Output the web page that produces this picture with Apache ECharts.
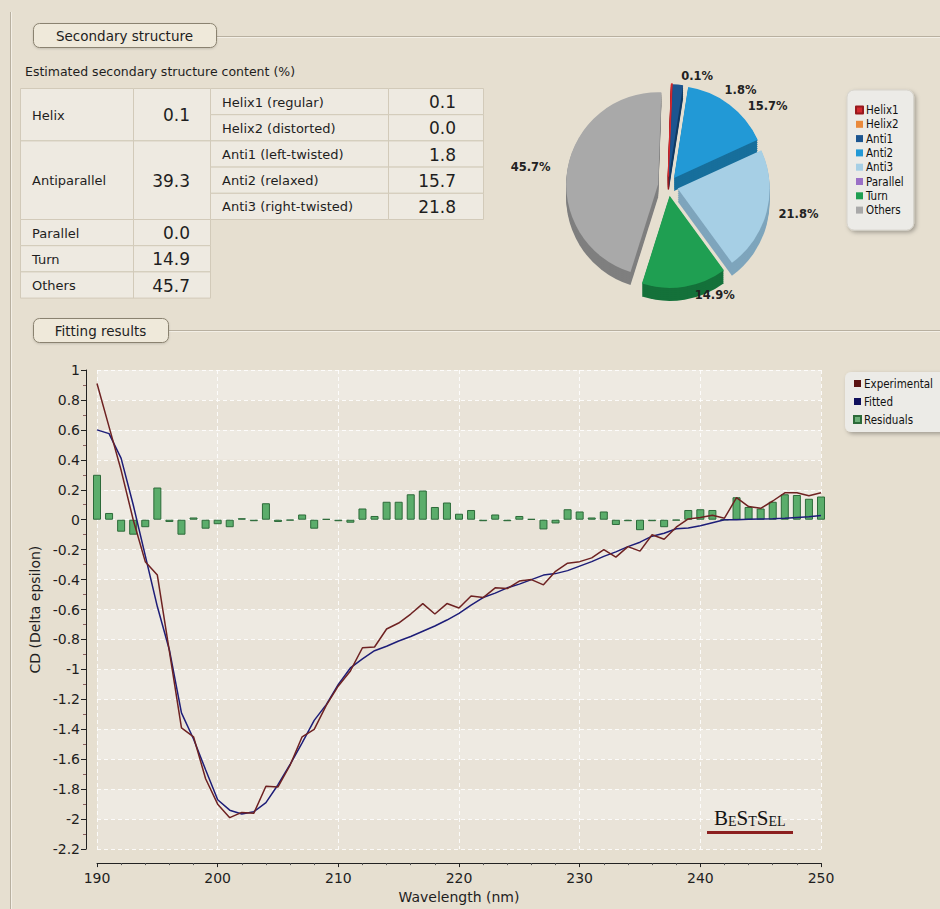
<!DOCTYPE html>
<html>
<head>
<meta charset="utf-8">
<script src="https://cdn.jsdelivr.net/npm/echarts@6/dist/echarts.min.js"></script>
<style>
  html, body { margin: 0; padding: 0; background: #e6dfd0; }
  #main { width: 940px; height: 909px; }
</style>
</head>
<body>
<div id="main"></div>
<script>
// ---- Secondary structure content (%) ----
const groupNames = ['Helix', 'Antiparallel', 'Parallel', 'Turn', 'Others'];
const groupValues = [0.1, 39.3, 0.0, 14.9, 45.7];
const subNames = ['Helix1 (regular)', 'Helix2 (distorted)', 'Anti1 (left-twisted)', 'Anti2 (relaxed)', 'Anti3 (right-twisted)'];
const subValues = [0.1, 0.0, 1.8, 15.7, 21.8];
const subGroup = [0, 0, 1, 1, 1];

const pieNames = ['Helix1', 'Helix2', 'Anti1', 'Anti2', 'Anti3', 'Parallel', 'Turn', 'Others'];
const pieValues = [0.1, 0.0, 1.8, 15.7, 21.8, 0.0, 14.9, 45.7];

// ---- CD spectrum fitting ----
const wavelength = [190, 191, 192, 193, 194, 195, 196, 197, 198, 199,
  200, 201, 202, 203, 204, 205, 206, 207, 208, 209,
  210, 211, 212, 213, 214, 215, 216, 217, 218, 219,
  220, 221, 222, 223, 224, 225, 226, 227, 228, 229,
  230, 231, 232, 233, 234, 235, 236, 237, 238, 239,
  240, 241, 242, 243, 244, 245, 246, 247, 248, 249, 250];
const experimental = [0.91, 0.62, 0.33, 0.00, -0.28, -0.37, -0.88, -1.39, -1.45, -1.73,
  -1.90, -1.99, -1.955, -1.96, -1.78, -1.785, -1.64, -1.45, -1.40, -1.24,
  -1.11, -1.01, -0.855, -0.85, -0.73, -0.69, -0.63, -0.56, -0.63, -0.56,
  -0.59, -0.51, -0.52, -0.455, -0.46, -0.41, -0.40, -0.435, -0.345, -0.29,
  -0.28, -0.255, -0.20, -0.25, -0.18, -0.21, -0.10, -0.13, -0.05, 0.005,
  0.015, 0.03, 0.01, 0.147, 0.088, 0.076, 0.125, 0.18, 0.18, 0.16, 0.18];
const fitted = [0.60, 0.575, 0.41, 0.10, -0.24, -0.58, -0.87, -1.29, -1.465, -1.67,
  -1.87, -1.94, -1.965, -1.95, -1.89, -1.77, -1.635, -1.49, -1.34, -1.235,
  -1.10, -0.99, -0.93, -0.875, -0.845, -0.81, -0.78, -0.745, -0.71, -0.67,
  -0.625, -0.57, -0.52, -0.49, -0.455, -0.43, -0.40, -0.37, -0.36, -0.34,
  -0.31, -0.28, -0.245, -0.215, -0.18, -0.15, -0.11, -0.09, -0.06, -0.055,
  -0.04, -0.02, 0.0, 0.0, 0.003, 0.005, 0.007, 0.01, 0.015, 0.02, 0.028];
const residuals = [0.30, 0.045, -0.08, -0.10, -0.05, 0.215, -0.015, -0.10, 0.015, -0.06,
  -0.03, -0.05, 0.01, -0.01, 0.11, -0.015, -0.005, 0.035, -0.06, 0.005,
  -0.01, -0.02, 0.075, 0.025, 0.12, 0.12, 0.17, 0.195, 0.085, 0.115,
  0.04, 0.065, -0.01, 0.035, -0.01, 0.025, 0.005, -0.065, -0.025, 0.07,
  0.055, 0.015, 0.055, -0.035, -0.01, -0.07, -0.01, -0.05, -0.005, 0.065,
  0.07, 0.065, 0.0, 0.15, 0.085, 0.075, 0.12, 0.17, 0.165, 0.14, 0.155];

// ---- styles ----
const FONT = '"DejaVu Sans", sans-serif';
const FONT_C = '"DejaVu Sans Condensed", "DejaVu Sans", sans-serif';
const INK = '#1e1e1e';
const pieColors = ['#d1282e', '#ea8a3c', '#1c5590', '#2299d6', '#a6cfe5', '#9a70c6', '#1f9f52', '#a9a9a9'];
const pieSideColors = ['#97181d', '#b0622a', '#113a63', '#176f9c', '#7ea5bc', '#6f4e92', '#14713a', '#7f7f7f'];
const lineColors = { exp: '#6e2222', fit: '#1d1d78', resFill: '#5bad6b', resEdge: '#2c6a39' };

// Table of estimated contents, laid out row by row from the arrays above
function tableGraphics() {
  const cols = [20, 133, 210, 388, 483];
  const top = 88, rowH = 26.2;
  const cell = (x0, x1, r0, span) => ({
    type: 'rect',
    shape: { x: x0 + 0.5, y: top + r0 * rowH + 0.5, width: x1 - x0, height: span * rowH },
    style: { fill: '#eeeae1', stroke: '#d2cab9', lineWidth: 1 }
  });
  const label = (t, x, y) => ({
    type: 'text',
    style: { text: t, x: x, y: y, font: '13px ' + FONT, fill: INK, textAlign: 'left', textVerticalAlign: 'middle' }
  });
  const num = (t, x, y) => ({
    type: 'text',
    style: { text: t, x: x, y: y, font: '17px ' + FONT, fill: INK, textAlign: 'right', textVerticalAlign: 'middle' }
  });
  const out = [];
  let row = 0;
  groupNames.forEach((g, gi) => {
    const subs = subNames.map((n, i) => i).filter(i => subGroup[i] === gi);
    const span = Math.max(1, subs.length);
    out.push(cell(cols[0], cols[1], row, span), cell(cols[1], cols[2], row, span));
    const cy = top + (row + span / 2) * rowH + 1;
    out.push(label(g, cols[0] + 12, cy), num(groupValues[gi].toFixed(1), cols[2] - 20, cy));
    subs.forEach((si, k) => {
      const r = row + k;
      out.push(cell(cols[2], cols[3], r, 1), cell(cols[3], cols[4], r, 1));
      const y = top + (r + 0.5) * rowH + 1;
      out.push(label(subNames[si], cols[2] + 12, y), num(subValues[si].toFixed(1), cols[4] - 27, y));
    });
    row += span;
  });
  return out;
}

// Panel frames and caption buttons
function panelGraphics() {
  const frame = '#b8b0a0';
  const btn = (x, y, w, text) => [
    { type: 'rect', shape: { x: x + 0.5, y: y + 0.5, width: w, height: 24, r: 6 },
      style: { fill: '#efe9da', stroke: '#8a8270', lineWidth: 1, shadowBlur: 2, shadowColor: 'rgba(0,0,0,0.15)', shadowOffsetY: 1 } },
    { type: 'text', style: { text: text, x: x + w / 2, y: y + 13, font: '13.5px ' + FONT, fill: INK, textAlign: 'center', textVerticalAlign: 'middle' } }
  ];
  return [
    { type: 'line', shape: { x1: 10.5, y1: 12, x2: 10.5, y2: 909 }, style: { stroke: frame, lineWidth: 1 } },
    { type: 'line', shape: { x1: 11.5, y1: 12, x2: 11.5, y2: 909 }, style: { stroke: '#f3efe6', lineWidth: 1 } },
    { type: 'line', shape: { x1: 216, y1: 36.5, x2: 940, y2: 36.5 }, style: { stroke: frame, lineWidth: 1 } },
    { type: 'line', shape: { x1: 216, y1: 37.5, x2: 940, y2: 37.5 }, style: { stroke: '#f3efe6', lineWidth: 1 } },
    { type: 'line', shape: { x1: 168, y1: 330.5, x2: 940, y2: 330.5 }, style: { stroke: frame, lineWidth: 1 } },
    { type: 'line', shape: { x1: 168, y1: 331.5, x2: 940, y2: 331.5 }, style: { stroke: '#f3efe6', lineWidth: 1 } },
    ...btn(33, 23, 183, 'Secondary structure'),
    ...btn(33, 318, 135, 'Fitting results'),
    { type: 'text', style: { text: 'Estimated secondary structure content (%)', x: 25, y: 71,
      font: '12.5px ' + FONT, fill: INK, textAlign: 'left', textVerticalAlign: 'middle' } }
  ];
}

// BeStSel mark in the plot corner
function logoGraphics() {
  const serif = '"Liberation Serif", "DejaVu Serif", serif';
  return [
    { type: 'text', z: 20, style: {
        text: '{b|B}{s|E}{b|S}{s|T}{b|S}{s|EL}', x: 714, y: 804,
        rich: {
          b: { fontSize: 21, fontFamily: serif, fill: '#141414', verticalAlign: 'bottom', lineHeight: 24 },
          s: { fontSize: 14, fontFamily: serif, fill: '#141414', verticalAlign: 'bottom', lineHeight: 24 }
        } } },
    { type: 'rect', z: 20, shape: { x: 707, y: 831, width: 86, height: 3 }, style: { fill: '#8c1f1f' } }
  ];
}

// Pie: a stack of darker copies below the top face gives it thickness
const pieCenter = [668, 186];
const pieDepths = [13, 11, 9, 7, 5, 3, 1];
const pieBase = {
  type: 'pie',
  radius: 92,
  startAngle: 88,
  clockwise: true,
  selectedMode: 'multiple',
  selectedOffset: 10,
  animation: false
};
const pieSideSeries = pieDepths.map(d => Object.assign({}, pieBase, {
  name: 'depth' + d,
  center: [pieCenter[0], pieCenter[1] + d],
  z: 1,
  silent: true,
  legendHoverLink: false,
  emphasis: { disabled: true },
  label: { show: false },
  labelLine: { show: false },
  data: pieNames.map((n, i) => ({
    name: n, value: pieValues[i], selected: true,
    itemStyle: { color: pieSideColors[i], borderColor: pieSideColors[i], borderWidth: i === 0 ? 1.5 : 0 }
  }))
}));
const pieTopSeries = Object.assign({}, pieBase, {
  name: 'Secondary structure',
  center: pieCenter,
  z: 3,
  emphasis: { disabled: true },
  label: {
    show: true, position: 'outside',
    formatter: p => p.value.toFixed(1) + '%',
    fontFamily: FONT, fontSize: 11.5, fontWeight: 'bold', color: '#222'
  },
  labelLine: { show: false, length: 8, length2: 4 },
  data: pieNames.map((n, i) => ({
    name: n, value: pieValues[i], selected: true,
    label: { show: pieValues[i] > 0 },
    itemStyle: { color: pieColors[i], borderColor: pieColors[i], borderWidth: i === 0 ? 1.5 : 0 }
  }))
});

const chart = echarts.init(document.getElementById('main'), null, { renderer: 'svg' });

const option = {
  backgroundColor: '#e6dfd0',
  animation: false,
  textStyle: { fontFamily: FONT },
  graphic: [...panelGraphics(), ...tableGraphics(), ...logoGraphics()],
  legend: [
    {
      data: pieNames.map((n, i) => ({ name: n, itemStyle: { color: pieColors[i] } })),
      orient: 'vertical', left: 847, top: 90,
      icon: 'rect', itemWidth: 7, itemHeight: 7, itemGap: 2.3,
      padding: [14, 10, 14, 8],
      backgroundColor: '#ecebe7', borderColor: '#d6d3cc', borderWidth: 1, borderRadius: 7,
      shadowBlur: 4, shadowColor: 'rgba(0,0,0,0.3)', shadowOffsetX: 2, shadowOffsetY: 2,
      selectedMode: false,
      textStyle: { fontFamily: FONT_C, fontSize: 11.5, color: '#111', lineHeight: 12, padding: [0, 0, 0, -2] }
    },
    {
      data: [
        { name: 'Experimental', itemStyle: { color: '#5a1212' } },
        { name: 'Fitted', itemStyle: { color: '#10105c' } },
        { name: 'Residuals', itemStyle: { color: '#6caf78' } }
      ],
      orient: 'vertical', left: 845, top: 372,
      icon: 'rect', itemWidth: 7, itemHeight: 7, itemGap: 5,
      padding: [5, 20, 6, 8],
      backgroundColor: '#ecebe7', borderRadius: 6,
      shadowBlur: 4, shadowColor: 'rgba(0,0,0,0.3)', shadowOffsetX: 2, shadowOffsetY: 2,
      selectedMode: false,
      textStyle: { fontFamily: FONT_C, fontSize: 11.5, color: '#111', lineHeight: 13, padding: [0, 0, 0, -2] }
    }
  ],
  grid: { left: 97, right: 119, top: 370, bottom: 54, containLabel: false },
  xAxis: {
    type: 'value', min: 190, max: 250, interval: 10, offset: 14,
    name: 'Wavelength (nm)', nameLocation: 'middle', nameGap: 25,
    nameTextStyle: { fontFamily: FONT, fontSize: 14, color: INK },
    axisLine: { show: true, onZero: false, lineStyle: { color: '#222', width: 1 } },
    axisTick: { show: true, length: 4, lineStyle: { color: '#222' } },
    minorTick: { show: true, splitNumber: 5, length: 2, lineStyle: { color: '#555' } },
    axisLabel: { fontFamily: FONT, fontSize: 14, color: INK, margin: 8 },
    splitLine: { show: true, lineStyle: { color: 'rgba(255,255,255,0.85)', type: [4, 3], width: 1 } }
  },
  yAxis: {
    type: 'value', min: -2.2, max: 1, interval: 0.2, offset: 11,
    name: 'CD (Delta epsilon)', nameLocation: 'middle', nameGap: 42,
    nameTextStyle: { fontFamily: FONT, fontSize: 14, color: INK },
    axisLine: { show: true, onZero: false, lineStyle: { color: '#222', width: 1 } },
    axisTick: { show: true, length: 5, lineStyle: { color: '#222' } },
    minorTick: { show: true, splitNumber: 2, length: 3, lineStyle: { color: '#8a6060' } },
    axisLabel: { fontFamily: FONT, fontSize: 14, color: INK, margin: 6 },
    splitLine: { show: true, lineStyle: { color: 'rgba(255,255,255,0.85)', type: [4, 3], width: 1 } },
    splitArea: { show: true, areaStyle: { color: ['#e9e3d8', '#eeeae2'] } }
  },
  series: [
    ...pieSideSeries,
    pieTopSeries,
    {
      name: 'Residuals', type: 'bar', barWidth: 8,
      itemStyle: { color: lineColors.resFill, borderColor: lineColors.resEdge, borderWidth: 1 },
      emphasis: { disabled: true },
      data: wavelength.map((w, i) => [w, residuals[i]]),
      z: 2
    },
    {
      name: 'Fitted', type: 'line', symbol: 'none',
      lineStyle: { color: lineColors.fit, width: 1.5 },
      itemStyle: { color: lineColors.fit },
      data: wavelength.map((w, i) => [w, fitted[i]]),
      z: 3
    },
    {
      name: 'Experimental', type: 'line', symbol: 'none',
      lineStyle: { color: lineColors.exp, width: 1.5 },
      itemStyle: { color: lineColors.exp },
      data: wavelength.map((w, i) => [w, experimental[i]]),
      z: 4
    }
  ]
};

chart.setOption(option);
</script>
</body>
</html>
